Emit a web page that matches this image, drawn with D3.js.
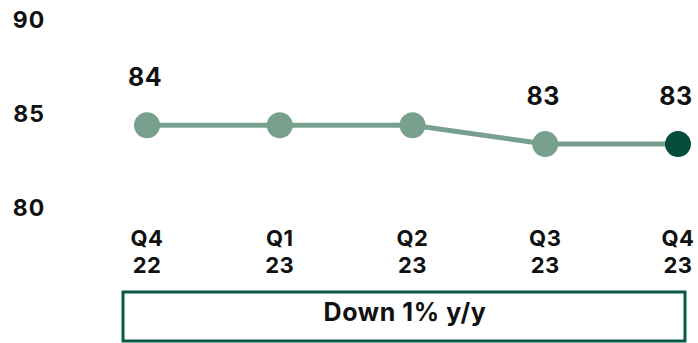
<!DOCTYPE html>
<html>
<head>
<meta charset="utf-8">
<script src="https://cdn.jsdelivr.net/npm/d3@7"></script>
<style>
  body { margin: 0; background: #fff; }
  svg { display: block; font-family: Inter, "Noto Sans", sans-serif; font-weight: 700; }
</style>
</head>
<body>
<div id="chart"></div>
<script>
// data
const quarters = ["Q4 22", "Q1 23", "Q2 23", "Q3 23", "Q4 23"];
const values = [84.4, 84.4, 84.4, 83.4, 83.4];
const shownLabels = ["84", "", "", "83", "83"];
const yTicks = [80, 85, 90];
const note = "Down 1% y/y";

const width = 698, height = 343;
const light = "#78a08f", dark = "#034d3a";

const svg = d3.select("#chart").append("svg")
  .attr("width", width)
  .attr("height", height);

const x = d3.scalePoint()
  .domain(quarters)
  .range([147, 678]);

const y = d3.scaleLinear()
  .domain([80, 90])
  .range([208, 20]);

// y axis labels only
svg.append("g")
  .selectAll("text")
  .data(yTicks)
  .join("text")
  .attr("x", 29)
  .attr("y", d => y(d))
  .attr("dy", "0.36em")
  .attr("text-anchor", "middle")
  .attr("font-size", 23)
  .attr("letter-spacing", 1)
  .attr("fill", "#111")
  .text(d => d);

// line
const line = d3.line()
  .x((d, i) => x(quarters[i]))
  .y(d => y(d));

svg.append("path")
  .datum(values)
  .attr("d", line)
  .attr("fill", "none")
  .attr("stroke", light)
  .attr("stroke-width", 5);

// dots
svg.append("g")
  .selectAll("circle")
  .data(values)
  .join("circle")
  .attr("cx", (d, i) => x(quarters[i]))
  .attr("cy", d => y(d))
  .attr("r", 13)
  .attr("fill", (d, i) => i === values.length - 1 ? dark : light);

// value labels
svg.append("g")
  .selectAll("text")
  .data(values)
  .join("text")
  .attr("x", (d, i) => x(quarters[i]) - 2)
  .attr("y", d => y(d) - 39)
  .attr("text-anchor", "middle")
  .attr("font-size", 25)
  .attr("letter-spacing", 0.5)
  .attr("fill", "#111")
  .text((d, i) => shownLabels[i]);

// x labels (two lines)
const xl = svg.append("g")
  .selectAll("text")
  .data(quarters)
  .join("text")
  .attr("x", d => x(d))
  .attr("text-anchor", "middle")
  .attr("font-size", 22)
  .attr("letter-spacing", 0.5)
  .attr("fill", "#111");

xl.append("tspan")
  .attr("x", d => x(d))
  .attr("y", 246)
  .text(d => d.split(" ")[0]);

xl.append("tspan")
  .attr("x", d => x(d))
  .attr("y", 273)
  .text(d => d.split(" ")[1]);

// note box
svg.append("rect")
  .attr("x", 123)
  .attr("y", 292)
  .attr("width", 562)
  .attr("height", 49)
  .attr("fill", "none")
  .attr("stroke", "#0c5846")
  .attr("stroke-width", 3);

svg.append("text")
  .attr("x", 405)
  .attr("y", 321)
  .attr("text-anchor", "middle")
  .attr("font-size", 25)
  .attr("letter-spacing", 0.6)
  .attr("fill", "#111")
  .text(note);
</script>
</body>
</html>
